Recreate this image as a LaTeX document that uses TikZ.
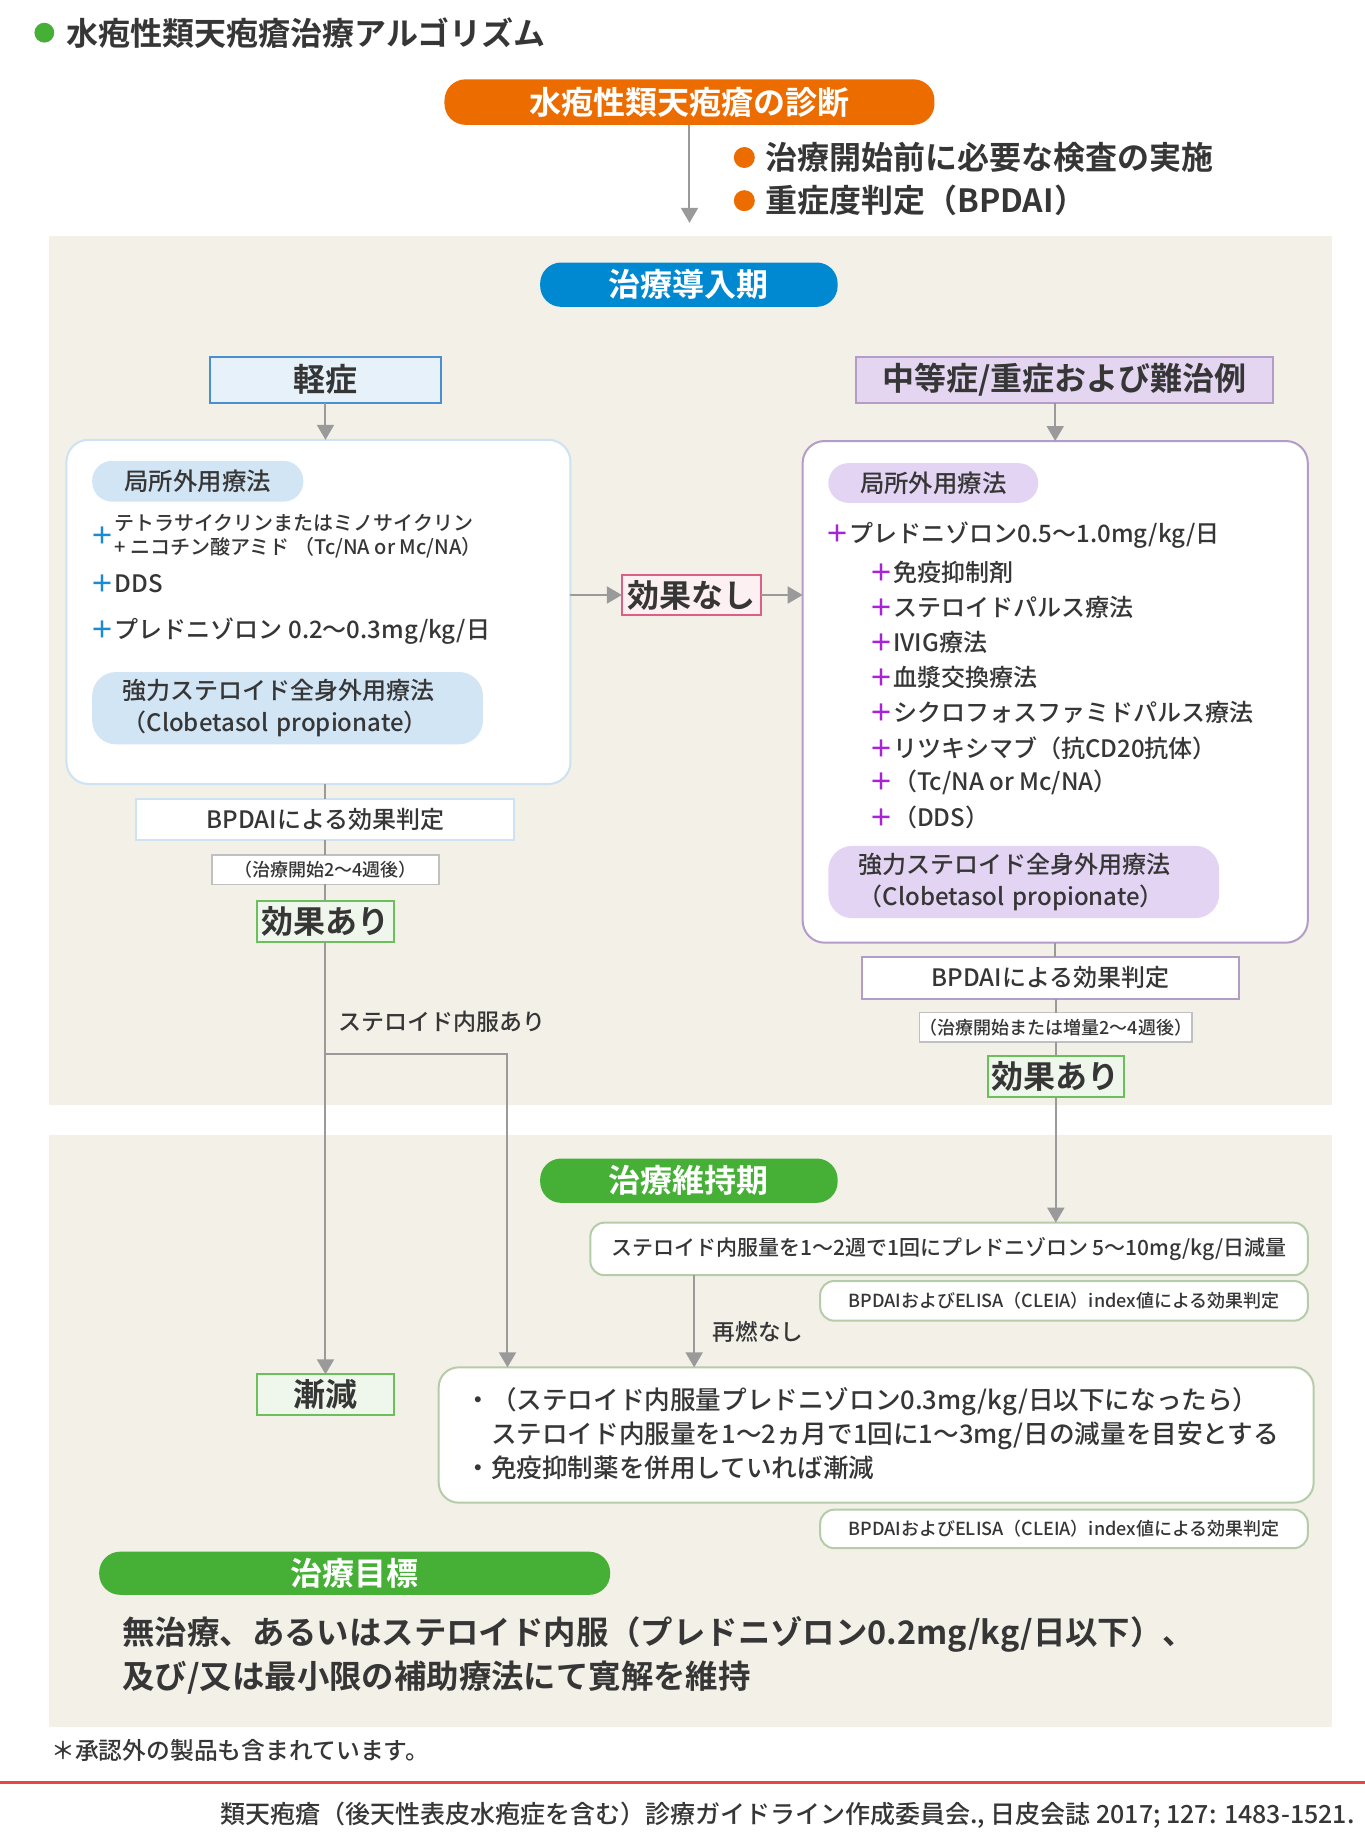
\documentclass[tikz,border=0pt]{standalone}
\usepackage{fontspec}
\setmainfont{Noto Sans CJK JP Medium}[BoldFont={Noto Sans CJK JP Bold}]
\usetikzlibrary{arrows.meta}
\definecolor{txt}{HTML}{363636}
\definecolor{grn}{HTML}{45B035}
\definecolor{org}{HTML}{EC6C00}
\definecolor{blu}{HTML}{0088D0}
\definecolor{beige}{HTML}{F3F0E8}
\definecolor{lbfill}{HTML}{E6F1FA}
\definecolor{lbdraw}{HTML}{4A90D0}
\definecolor{lbbox}{HTML}{CDE2F3}
\definecolor{lbpill}{HTML}{D2E5F5}
\definecolor{bplus}{HTML}{1A8AD4}
\definecolor{pfill}{HTML}{E4D6F0}
\definecolor{pdraw}{HTML}{B49CC8}
\definecolor{ppill}{HTML}{E3D4F3}
\definecolor{pplus}{HTML}{A822D6}
\definecolor{gfill}{HTML}{EFF6EB}
\definecolor{gdraw}{HTML}{6CC05C}
\definecolor{pinkd}{HTML}{DC5F86}
\definecolor{pinkf}{HTML}{FCF0F3}
\definecolor{gline}{HTML}{9A9A9A}
\definecolor{gbox}{HTML}{B4CCA8}
\definecolor{redl}{HTML}{E84545}
\definecolor{sgray}{HTML}{C0C0C0}
\newcommand\du{0.58333pt}
\newcommand\fs[2]{\fontsize{#1pt}{#2pt}\selectfont}
\newcommand\bp{{\bfseries\color{bplus}＋}}
\newcommand\pp{{\bfseries\color{pplus}＋}}
\begin{document}
\begin{tikzpicture}[x=0.58333pt,y=-0.58333pt,
  every node/.style={inner sep=0pt,outer sep=0pt,text=txt},
  conn/.style={draw=gline,line width=1pt},
  arr/.style={conn,-{Triangle[width=8.5pt,length=7.5pt]}},
  pill/.style={rounded corners=10.5pt,text=white,font=\fs{16}{19}\bfseries},
  sqbox/.style={draw,line width=1pt},
  rbx/.style={draw,line width=1pt,fill=white},
  item/.style={anchor=west,font=\fs{12}{14}},
  bigpill/.style={rounded corners=12pt,minimum width=335*\du,minimum height=62*\du,align=left,
    inner xsep=26*\du,text width=283*\du,font=\fs{12}{15.75}},
  dot/.style={circle,minimum size=18*\du}]
\useasboundingbox (0,0) rectangle (1170,1576.3);
% panels
\fill[beige] (42,202) rectangle (1142,947);
\fill[beige] (42,973) rectangle (1142,1480);
% title
\node[dot,fill=grn,minimum size=17*\du] (tdot) at (38,28) {};
\node[anchor=west,font=\fs{16}{19}\bfseries] (title) at (57,28) {水疱性類天疱瘡治療アルゴリズム};
% diagnosis
\node[pill,fill=org,minimum width=420*\du,minimum height=39*\du] (diag) at (591,87.5) {水疱性類天疱瘡の診断};
\coordinate (diagend) at (591,191);
\draw[arr] (diag.south) -- (diagend);
\node[dot,fill=org] (b1) at (638,135) {};
\node[anchor=west,font=\fs{16}{19}\bfseries] (b1t) at (656,135) {治療開始前に必要な検査の実施};
\node[dot,fill=org] (b2) at (638,172) {};
\node[anchor=west,font=\fs{16}{19}\bfseries] (b2t) at (656,172) {重症度判定（BPDAI）};
% phase 1
\node[pill,fill=blu,minimum width=255*\du,minimum height=38*\du] (phase1) at (590.5,244) {治療導入期};
% left branch
\node[sqbox,fill=lbfill,draw=lbdraw,minimum width=198*\du,minimum height=39*\du,font=\fs{16}{19}\bfseries] (mild) at (279,325.5) {軽症};
\node[rbx,draw=lbbox,rounded corners=11pt,minimum width=432*\du,minimum height=295*\du] (lbox) at (273,524.5) {};
\draw[arr] (mild.south) -- (mild.south |- lbox.north);
\node[fill=lbpill,rounded corners=10pt,minimum width=181*\du,minimum height=35*\du,font=\fs{12.2}{14}] (lpill1) at (169.5,412.5) {局所外用療法};
\node[anchor=west,font=\fs{12}{14}] (lp1) at (78,459) {\bp};
\node[anchor=west,align=left,font=\fs{10}{12.25}] (li1) at (98,459.5) {テトラサイクリンまたはミノサイクリン\\+ ニコチン酸アミド （Tc/NA or Mc/NA）};
\node[item] (li2) at (78,500) {\bp DDS};
\node[item] (li3) at (78,541) {\bp プレドニゾロン 0.2〜0.3mg/kg/日};
\node[fill=lbpill,bigpill] (lpill2) at (246.5,607) {強力ステロイド全身外用療法\\（Clobetasol propionate）};
\node[sqbox,fill=white,draw=lbbox,minimum width=324*\du,minimum height=35*\du,font=\fs{12}{14}] (lbpdai) at (279,702.5) {BPDAIによる効果判定};
\draw[conn] (lbpdai.north |- lbox.south) -- (lbpdai.north);
\node[sqbox,fill=white,draw=sgray,line width=0.8pt,minimum width=195*\du,minimum height=25*\du,font=\fs{9}{11}] (lweek) at (279,745.5) {（治療開始2〜4週後）};
\draw[conn] (lbpdai.south) -- (lweek.north);
\node[sqbox,fill=gfill,draw=gdraw,minimum width=118*\du,minimum height=35*\du,font=\fs{16}{19}\bfseries] (leff) at (279,789.5) {効果あり};
\draw[conn] (lweek.south) -- (leff.north);
\node[sqbox,fill=gfill,draw=gdraw,minimum width=118*\du,minimum height=35*\du,font=\fs{16}{19}\bfseries] (taper) at (279,1195.5) {漸減};
\draw[arr] (leff.south) -- (taper.north);
\node[anchor=west,font=\fs{11.5}{14}] (steroidlbl) at (290,876) {ステロイド内服あり};
% no effect
\node[sqbox,fill=pinkf,draw=pinkd,minimum width=119*\du,minimum height=34*\du,font=\fs{16}{19}\bfseries] (noeff) at (592.5,510) {効果なし};
\draw[arr] (lbox.east |- noeff.west) -- (noeff.west);
% right branch
\node[sqbox,fill=pfill,draw=pdraw,minimum width=357*\du,minimum height=39*\du,font=\fs{16}{19}\bfseries] (severe) at (912.5,325.5) {中等症/重症および難治例};
\node[rbx,draw=pdraw,rounded corners=11pt,minimum width=433*\du,minimum height=430*\du] (rbox) at (904.5,593) {};
\draw[arr] (rbox.north |- severe.south) -- (rbox.north);
\draw[arr] (noeff.east) -- (noeff.east -| rbox.west);
\node[fill=ppill,rounded corners=10pt,minimum width=180*\du,minimum height=34*\du,font=\fs{12.2}{14}] (rpill1) at (800,414) {局所外用療法};
\node[item] (ri0) at (708,459) {\pp プレドニゾロン0.5〜1.0mg/kg/日};
\node[item] (ri1) at (745,491) {\pp 免疫抑制剤};
\node[item] (ri2) at (745,521) {\pp ステロイドパルス療法};
\node[item] (ri3) at (745,551) {\pp IVIG療法};
\node[item] (ri4) at (745,581) {\pp 血漿交換療法};
\node[item] (ri5) at (745,611) {\pp シクロフォスファミドパルス療法};
\node[item] (ri6) at (745,641) {\pp リツキシマブ（抗CD20抗体）};
\node[item] (ri7) at (745,671) {\pp （Tc/NA or Mc/NA）};
\node[item] (ri8) at (745,701) {\pp （DDS）};
\node[fill=ppill,bigpill] (rpill2) at (877.5,756) {強力ステロイド全身外用療法\\（Clobetasol propionate）};
\node[sqbox,fill=white,draw=pdraw,minimum width=323*\du,minimum height=36*\du,font=\fs{12}{14}] (rbpdai) at (900.5,838) {BPDAIによる効果判定};
\draw[conn] (rbox.south) -- (rbox.south |- rbpdai.north);
\node[sqbox,fill=white,draw=sgray,line width=0.8pt,minimum width=232*\du,minimum height=25*\du,font=\fs{9}{11}] (rweek) at (905,880.5) {（治療開始または増量2〜4週後）};
\draw[conn] (rweek.north |- rbpdai.south) -- (rweek.north);
\node[sqbox,fill=gfill,draw=gdraw,minimum width=117*\du,minimum height=35*\du,font=\fs{16}{19}\bfseries] (reff) at (905,922.5) {効果あり};
\draw[conn] (rweek.south) -- (reff.north);
% phase 2
\node[pill,fill=grn,minimum width=255*\du,minimum height=38*\du] (phase2) at (590.5,1012) {治療維持期};
\node[rbx,draw=gbox,rounded corners=7pt,minimum width=615*\du,minimum height=45*\du,font=\fs{10.5}{13}] (m1) at (813.5,1070.5) {ステロイド内服量を1〜2週で1回にプレドニゾロン 5〜10mg/kg/日減量};
\draw[arr] (reff.south) -- (reff.south |- m1.north);
\node[rbx,draw=gbox,rounded corners=7pt,minimum width=418*\du,minimum height=34*\du,font=\fs{9}{11}] (m2) at (912,1115) {BPDAIおよびELISA（CLEIA）index値による効果判定};
\node[rbx,draw=gbox,rounded corners=10pt,minimum width=750*\du,minimum height=116*\du] (bigbox) at (751,1230) {};
\node[anchor=west,align=left,font=\fs{12.8}{16.9}] (bigtext) at (399,1229) {・（ステロイド内服量プレドニゾロン0.3mg/kg/日以下になったら）\\\phantom{・}ステロイド内服量を1〜2ヵ月で1回に1〜3mg/日の減量を目安とする\\・免疫抑制薬を併用していれば漸減};
\coordinate (c595) at (595,1000);
\draw[arr] (m1.south -| c595) -- (bigbox.north -| c595);
\node[anchor=west,font=\fs{11.3}{14}] (relapse) at (611,1142) {再燃なし};
\coordinate (br) at (279,903);
\coordinate (br2) at (435,903);
\draw[arr] (br) -- (br2) -- (br2 |- bigbox.north);
\node[rbx,draw=gbox,rounded corners=7pt,minimum width=418*\du,minimum height=33*\du,font=\fs{9}{11}] (m3) at (912,1310.5) {BPDAIおよびELISA（CLEIA）index値による効果判定};
% goal
\node[pill,fill=grn,minimum width=438*\du,minimum height=37*\du] (goal) at (304,1348.5) {治療目標};
\node[anchor=west,align=left,font=\fs{16.2}{22.2}\bfseries] (goaltext) at (105,1419) {無治療、あるいはステロイド内服（プレドニゾロン0.2mg/kg/日以下）、\\及び/又は最小限の補助療法にて寛解を維持};
% footer
\node[anchor=west,font=\fs{11.9}{14}] (note) at (44,1500) {＊承認外の製品も含まれています。};
\coordinate (rl1) at (0,1528);
\coordinate (rl2) at (1170,1528);
\draw[redl,line width=1.2pt] (rl1) -- (rl2);
\node[anchor=east,font=\fs{12.5}{15}] (cite) at (1161,1556) {類天疱瘡（後天性表皮水疱症を含む）診療ガイドライン作成委員会., 日皮会誌 2017; 127: 1483-1521.};
\end{tikzpicture}
\end{document}
